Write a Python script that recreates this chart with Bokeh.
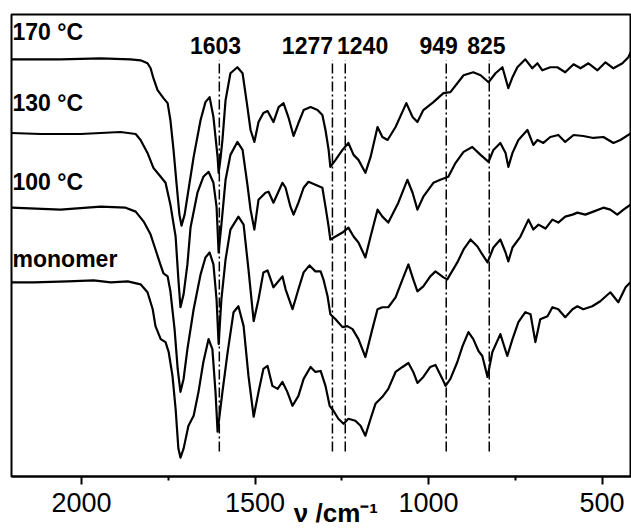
from bokeh.plotting import figure
from bokeh.models import Range1d, FixedTicker
from bokeh.core.properties import value
from bokeh.embed import file_html
from bokeh.resources import INLINE

# ---- data (wavenumber cm^-1, transmittance a.u.) ----
w_170 = [2202, 2061, 1945, 1859, 1830, 1810, 1801, 1793, 1781, 1764, 1752, 1744, 1735, 1726, 1718, 1712,
         1703, 1695, 1677, 1657, 1643, 1631, 1620, 1608, 1605, 1600, 1594, 1585, 1571, 1551, 1536, 1522,
         1513, 1502, 1490, 1476, 1464, 1447, 1432, 1418, 1404, 1389, 1375, 1360, 1340, 1320, 1306, 1297,
         1288, 1283, 1268, 1248, 1231, 1216, 1202, 1182, 1167, 1147, 1133, 1118, 1095, 1064, 1046, 1032,
         1015, 986, 957, 937, 899, 871, 850, 827, 807, 787, 770, 758, 744, 721, 701, 686, 672, 649, 629,
         606, 582, 562, 539, 513, 490, 467, 441, 424, 415]
t_170 = [419, 419, 420, 419, 418, 415, 410, 400, 388, 380, 375, 358, 328, 293, 263, 252,
         263, 281, 321, 358, 376, 381, 361, 321, 305, 318, 338, 378, 405, 411, 405, 371,
         348, 336, 356, 365, 367, 356, 371, 375, 361, 342, 355, 368, 371, 368, 363, 348,
         328, 311, 318, 328, 335, 323, 318, 305, 321, 351, 341, 338, 351, 375, 361, 356,
         368, 376, 385, 386, 403, 406, 403, 396, 405, 411, 390, 401, 411, 419, 410, 415, 408, 411, 411,
         406, 414, 410, 415, 408, 416, 410, 415, 421, 428]

w_130 = [2202, 2118, 2003, 1888, 1844, 1830, 1810, 1793, 1772, 1758, 1744, 1729, 1721, 1715, 1706, 1695,
         1686, 1666, 1649, 1634, 1620, 1611, 1605, 1597, 1585, 1571, 1551, 1536, 1522, 1513, 1502, 1490,
         1470, 1461, 1447, 1421, 1412, 1398, 1389, 1375, 1360, 1346, 1326, 1306, 1297, 1288, 1283, 1268,
         1248, 1231, 1216, 1202, 1182, 1167, 1147, 1133, 1116, 1087, 1061, 1046, 1032, 1015, 986, 966,
         943, 922, 899, 874, 850, 827, 813, 793, 778, 770, 758, 741, 715, 698, 686, 669, 649, 626, 606,
         582, 554, 525, 496, 467, 447, 415]
t_130 = [345, 344, 344, 346, 344, 338, 325, 310, 301, 295, 273, 241, 198, 170, 183, 213,
         250, 285, 301, 306, 295, 271, 225, 253, 298, 323, 336, 328, 293, 268, 248, 278,
         285, 286, 275, 295, 290, 271, 263, 275, 290, 296, 293, 290, 271, 251, 238, 241,
         245, 250, 241, 235, 220, 241, 268, 261, 255, 275, 298, 285, 268, 281, 295, 298,
         301, 315, 326, 331, 323, 316, 328, 335, 325, 311, 325, 338, 348, 333, 338, 335, 341, 343, 336,
         343, 342, 340, 341, 335, 338, 345]

w_100 = [2202, 2061, 1945, 1873, 1844, 1821, 1801, 1787, 1772, 1764, 1752, 1744, 1732, 1723, 1715, 1706,
         1695, 1677, 1657, 1643, 1631, 1620, 1611, 1605, 1597, 1585, 1571, 1548, 1533, 1519, 1504, 1490,
         1476, 1464, 1447, 1421, 1412, 1392, 1375, 1360, 1343, 1326, 1311, 1303, 1291, 1283, 1268, 1248,
         1234, 1219, 1202, 1182, 1162, 1147, 1133, 1116, 1095, 1075, 1058, 1044, 1032, 1015, 995, 980,
         957, 946, 917, 899, 879, 859, 845, 830, 813, 793, 778, 770, 758, 735, 712, 698, 683, 663, 643,
         626, 606, 585, 571, 548, 525, 496, 476, 456, 438, 418]
t_100 = [270, 268, 271, 270, 266, 256, 243, 228, 212, 204, 201, 186, 148, 108, 85, 98,
         128, 168, 203, 220, 225, 213, 178, 133, 178, 218, 248, 261, 253, 208, 156, 178,
         205, 207, 190, 201, 188, 168, 188, 205, 212, 206, 206, 198, 181, 163, 158, 150,
         151, 148, 138, 120, 148, 168, 170, 170, 180, 198, 213, 198, 186, 191, 201, 206,
         200, 198, 215, 228, 238, 231, 223, 215, 230, 238, 225, 216, 230, 241, 258, 248, 253, 249, 258,
         255, 261, 263, 265, 263, 266, 270, 268, 263, 268, 273]

w_mono = [2202, 2138, 2040, 1965, 1916, 1867, 1830, 1810, 1795, 1787, 1772, 1758, 1749, 1738, 1729, 1721,
          1715, 1706, 1692, 1677, 1663, 1649, 1634, 1623, 1614, 1608, 1594, 1579, 1562, 1548, 1533, 1519,
          1504, 1490, 1476, 1464, 1450, 1435, 1421, 1407, 1392, 1375, 1360, 1340, 1326, 1311, 1297, 1285,
          1274, 1260, 1245, 1231, 1211, 1196, 1182, 1167, 1153, 1133, 1116, 1095, 1075, 1058, 1044, 1032,
          1015, 995, 980, 960, 951, 937, 917, 902, 885, 871, 856, 845, 830, 816, 793, 773, 758, 741, 721,
          706, 692, 678, 657, 643, 626, 606, 585, 571, 554, 528, 505, 476, 453, 432, 418]
t_mono = [195, 195, 196, 197, 195, 196, 193, 185, 168, 151, 138, 135, 125, 101, 68, 28,
          19, 28, 51, 61, 85, 115, 138, 128, 85, 45, 85, 125, 165, 171, 151, 101,
          60, 85, 108, 111, 91, 88, 95, 85, 71, 81, 98, 110, 105, 106, 91, 71,
          66, 58, 53, 58, 56, 51, 41, 58, 73, 80, 88, 105, 110, 114, 105, 94,
          100, 110, 112, 98, 91, 98, 115, 131, 145, 138, 126, 121, 100, 125, 143, 121, 138, 155, 165,
          163, 135, 158, 161, 170, 168, 160, 168, 171, 168, 171, 176, 185, 175, 190, 195]

peaks = [1603, 1277, 1240, 949, 825]
peak_labels = ["1603", "1277", "1240", "949", "825"]
peak_label_x = [1614, 1349, 1190, 971, 833]

series_labels = ["170 \u00b0C", "130 \u00b0C", "100 \u00b0C", "monomer"]
series_label_y = [446, 375, 296, 218]

x_ticks = [2000, 1500, 1000, 500]
x_minor = [1750, 1250, 750]
x_title = "\u00a0\u00a0\u00a0\u00a0\u03bd /cm\u207b\u00b9"

# ---- figure ----
p = figure(width=631, height=530, output_backend="svg", toolbar_location=None,
           x_range=Range1d(2202, 415), y_range=Range1d(0, 464), y_axis_location=None,
           min_border_left=11, min_border_right=0, min_border_top=14, min_border_bottom=52)
p.grid.visible = False
p.outline_line_color = "black"
p.outline_line_width = 2
p.background_fill_color = "white"
p.border_fill_color = "white"

ax = p.xaxis[0]
ax.ticker = FixedTicker(ticks=x_ticks, minor_ticks=x_minor)
ax.axis_line_width = 2
ax.axis_line_color = "black"
ax.major_tick_out = 8
ax.major_tick_in = 0
ax.minor_tick_out = 4
ax.minor_tick_in = 0
ax.major_tick_line_width = 2
ax.minor_tick_line_width = 2
ax.major_label_text_font = "Liberation Sans"
ax.major_label_text_font_size = "27px"
ax.major_label_text_color = "black"
ax.major_label_standoff = 8
ax.major_label_text_line_height = 1.0
ax.axis_label = x_title
ax.axis_label_text_font = "Liberation Sans"
ax.axis_label_text_font_style = "bold"
ax.axis_label_text_font_size = "26px"
ax.axis_label_text_color = "black"
ax.axis_label_text_line_height = 1.0
ax.axis_label_standoff = -17

for xs, ys in [(w_170, t_170), (w_130, t_130), (w_100, t_100), (w_mono, t_mono)]:
    p.line(xs, ys, line_color="black", line_width=2.2, line_join="round")

p.segment(x0=peaks, y0=[25] * len(peaks), x1=peaks, y1=[418] * len(peaks),
          line_color="black", line_width=1.5, line_dash="10 3 2 3")

p.text(x=peak_label_x, y=[433] * len(peaks), text=peak_labels,
       text_font=value("Liberation Sans"), text_font_style="bold", text_font_size="23px",
       text_align="center", text_baseline="alphabetic", text_color="black")

p.text(x=[2199] * 4, y=series_label_y, text=series_labels,
       text_font=value("Liberation Sans"), text_font_style="bold", text_font_size="23px",
       text_align="left", text_baseline="alphabetic", text_color="black")

open("out.html", "w").write(file_html(p, INLINE))
